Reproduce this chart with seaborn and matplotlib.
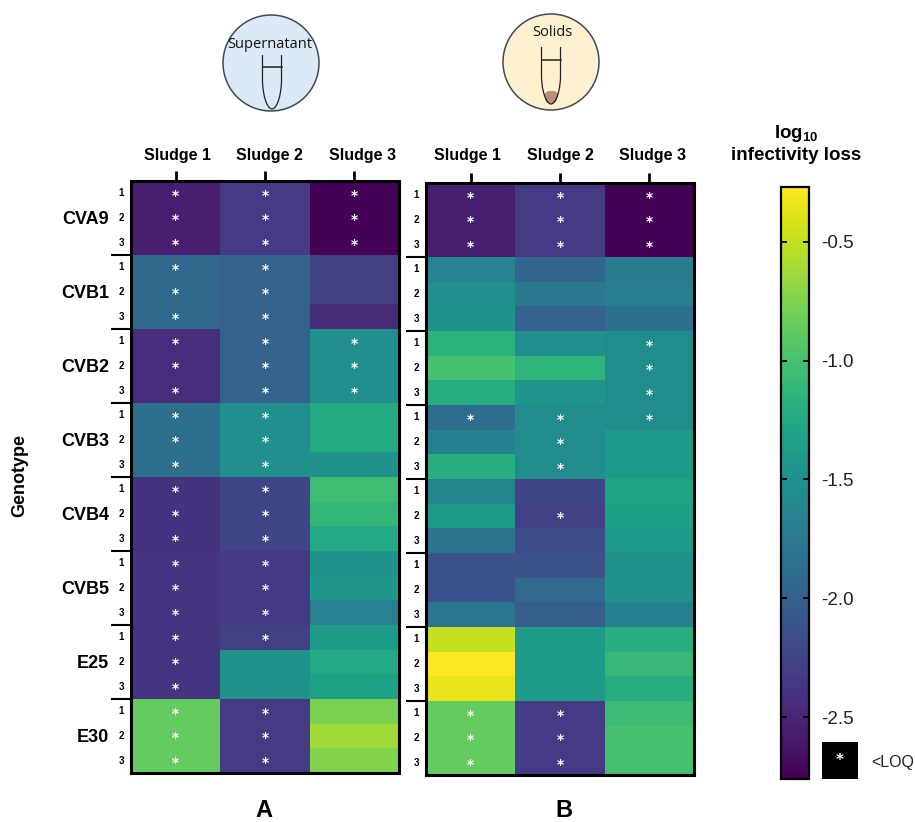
import numpy as np
import pandas as pd
import matplotlib
matplotlib.use("Agg")
import matplotlib.pyplot as plt
import seaborn as sns
from matplotlib.patches import Circle, PathPatch, Rectangle
from matplotlib.path import Path
from matplotlib.transforms import ScaledTranslation

# log10 infectivity loss, rows are genotype x replicate
genotypes = ["CVA9", "CVB1", "CVB2", "CVB3", "CVB4", "CVB5", "E25", "E30"]
replicates = ["1", "2", "3"]
sludges = ["Sludge 1", "Sludge 2", "Sludge 3"]

sup_sludge1 = [-2.55, -2.55, -2.55, -1.93, -1.93, -1.93, -2.43, -2.43, -2.43, -1.86, -1.86, -1.86,
               -2.40, -2.40, -2.40, -2.38, -2.38, -2.38, -2.38, -2.38, -2.38, -0.87, -0.87, -0.87]
sup_sludge2 = [-2.33, -2.33, -2.33, -1.98, -1.98, -1.98, -1.98, -1.98, -1.98, -1.53, -1.53, -1.53,
               -2.25, -2.25, -2.25, -2.35, -2.35, -2.35, -2.30, -1.49, -1.49, -2.33, -2.33, -2.33]
sup_sludge3 = [-2.75, -2.75, -2.75, -2.28, -2.28, -2.45, -1.53, -1.53, -1.53, -1.24, -1.24, -1.51,
               -1.04, -1.11, -1.26, -1.51, -1.44, -1.66, -1.39, -1.26, -1.34, -0.77, -0.62, -0.74]

sol_sludge1 = [-2.55, -2.55, -2.55, -1.66, -1.53, -1.51, -1.16, -0.99, -1.21, -1.88, -1.68, -1.19,
               -1.63, -1.39, -1.81, -2.13, -2.15, -1.78, -0.49, -0.27, -0.35, -0.87, -0.87, -0.87]
sol_sludge2 = [-2.33, -2.33, -2.33, -1.96, -1.76, -2.00, -1.53, -1.14, -1.46, -1.56, -1.56, -1.56,
               -2.25, -2.30, -2.18, -2.13, -1.91, -2.03, -1.39, -1.39, -1.39, -2.33, -2.33, -2.33]
sol_sludge3 = [-2.75, -2.75, -2.75, -1.72, -1.71, -1.86, -1.56, -1.56, -1.56, -1.56, -1.41, -1.41,
               -1.31, -1.36, -1.41, -1.51, -1.51, -1.68, -1.19, -1.09, -1.21, -1.06, -0.99, -0.99]

# 1 = below limit of quantification (asterisk)
sup_loq1 = [1, 1, 1, 1, 1, 1, 1, 1, 1, 1, 1, 1, 1, 1, 1, 1, 1, 1, 1, 1, 1, 1, 1, 1]
sup_loq2 = [1, 1, 1, 1, 1, 1, 1, 1, 1, 1, 1, 1, 1, 1, 1, 1, 1, 1, 1, 0, 0, 1, 1, 1]
sup_loq3 = [1, 1, 1, 0, 0, 0, 1, 1, 1, 0, 0, 0, 0, 0, 0, 0, 0, 0, 0, 0, 0, 0, 0, 0]
sol_loq1 = [1, 1, 1, 0, 0, 0, 0, 0, 0, 1, 0, 0, 0, 0, 0, 0, 0, 0, 0, 0, 0, 1, 1, 1]
sol_loq2 = [1, 1, 1, 0, 0, 0, 0, 0, 0, 1, 1, 1, 0, 1, 0, 0, 0, 0, 0, 0, 0, 1, 1, 1]
sol_loq3 = [1, 1, 1, 0, 0, 0, 1, 1, 1, 1, 0, 0, 0, 0, 0, 0, 0, 0, 0, 0, 0, 0, 0, 0]

VMIN, VMAX = -2.76, -0.27
W, H = 915, 822

plt.rcParams["font.family"] = ["Liberation Sans", "DejaVu Sans"]
plt.rcParams["axes.unicode_minus"] = False
plt.rcParams["mathtext.fontset"] = "custom"
plt.rcParams["mathtext.bf"] = "Liberation Sans:bold"
plt.rcParams["mathtext.rm"] = "Liberation Sans:bold"

fig = plt.figure(figsize=(W / 100, H / 100), dpi=100)


def px_axes(left, top, right, bottom):
    return fig.add_axes([left / W, 1 - bottom / H, (right - left) / W, (bottom - top) / H])


row_index = [f"{g}-{r}" for g in genotypes for r in replicates]


def draw_panel(ax, cols, loqs, label_shift, label_pad, cbar_ax=None, group_labels=True):
    df = pd.DataFrame(dict(zip(sludges, cols)), index=row_index)
    stars = np.array([["*" if v else "" for v in col] for col in loqs]).T
    sns.heatmap(df, ax=ax, cmap="viridis", vmin=VMIN, vmax=VMAX, annot=stars, fmt="",
                annot_kws={"color": "white", "fontsize": 10, "fontweight": "bold",
                           "family": "DejaVu Sans"},
                cbar=cbar_ax is not None, cbar_ax=cbar_ax, linewidths=0)
    # asterisk glyph sits high in its box, nudge it down a little
    for t in ax.texts:
        x, y = t.get_position()
        t.set_position((x, y + 0.09))
    ax.xaxis.tick_top()
    ax.set_xticks(np.arange(3) + 0.5, sludges, fontsize=11.5, fontweight="bold", rotation=0)
    ax.tick_params(axis="x", length=7, width=2, pad=label_pad, color="black")
    # column headers don't sit exactly over their ticks in the original
    for lab, dx in zip(ax.get_xticklabels(), label_shift):
        lab.set_transform(lab.get_transform() + ScaledTranslation(dx / 100, 0, fig.dpi_scale_trans))
    ax.set_yticks(np.arange(24) + 0.5, replicates * 8, fontsize=7, fontweight="bold", rotation=0)
    ax.tick_params(axis="y", which="major", length=0, pad=5)
    ax.set_yticks(np.arange(3, 24, 3), minor=True)
    ax.tick_params(axis="y", which="minor", length=14.5, width=1.5, color="black")
    ax.set_xlabel("")
    ax.set_ylabel("")
    for s in ax.spines.values():
        s.set_visible(True)
        s.set_linewidth(2.2)
        s.set_color("black")
    if group_labels:
        for i, g in enumerate(genotypes):
            ax.annotate(g, xy=(0, 3 * i + 1.5), xycoords=ax.get_yaxis_transform(),
                        xytext=(-16, -1.4), textcoords="offset points", ha="right", va="center",
                        fontsize=13, fontweight="bold")


ax_a = px_axes(131, 181, 399, 773)
ax_b = px_axes(426, 183, 694, 775)
cax = px_axes(781, 187, 809, 779)

draw_panel(ax_a, [sup_sludge1, sup_sludge2, sup_sludge3], [sup_loq1, sup_loq2, sup_loq3],
           [2, 4, 8], 6, cbar_ax=cax)
draw_panel(ax_b, [sol_sludge1, sol_sludge2, sol_sludge3], [sol_loq1, sol_loq2, sol_loq3],
           [-3, 0, 3], 7.5, group_labels=False)

# colour bar
cb = ax_a.collections[0].colorbar
cb.set_ticks([-0.5, -1.0, -1.5, -2.0, -2.5], labels=["-0.5", "-1.0", "-1.5", "-2.0", "-2.5"])
cb.outline.set_visible(True)
cb.outline.set_linewidth(1.6)
cb.outline.set_edgecolor("black")
cax.tick_params(axis="y", direction="in", left=True, right=True, length=4, width=1.3,
                labelsize=13.5, labelcolor="#222222", pad=9, color="black")

# overlay in pixel coordinates for annotations and the two tube icons
ov = fig.add_axes([0, 0, 1, 1], zorder=5)
ov.set_xlim(0, W)
ov.set_ylim(H, 0)
ov.axis("off")

ov.text(20, 475, "Genotype", rotation=90, ha="center", va="center", fontsize=13, fontweight="bold")
ov.text(264, 821.5, "A", ha="center", va="bottom", fontsize=17, fontweight="bold")
ov.text(564, 821.5, "B", ha="center", va="bottom", fontsize=17, fontweight="bold")
ov.text(796, 134, r"$\mathbf{log_{10}}$", ha="center", va="center", fontsize=13.5, fontweight="bold")
ov.text(796, 155, "infectivity loss", ha="center", va="center", fontsize=13.5, fontweight="bold")

ov.add_patch(Rectangle((822, 742), 36, 37, facecolor="black", edgecolor="none"))
ov.text(840, 760, "*", color="white", ha="center", va="center", fontsize=11, fontweight="bold",
        family="DejaVu Sans")
ov.text(871, 762, "<LOQ", ha="left", va="center", fontsize=11.5, color="#222222")


def tube(cx, top, shoulder, bottom, level, halfw=9.5):
    verts = [(cx - halfw, top), (cx - halfw, shoulder),
             (cx - halfw + 1, bottom - 8), (cx - 3.5, bottom), (cx, bottom),
             (cx + 3.5, bottom), (cx + halfw - 1, bottom - 8), (cx + halfw, shoulder),
             (cx + halfw, top)]
    codes = [Path.MOVETO, Path.LINETO, Path.CURVE4, Path.CURVE4, Path.CURVE4,
             Path.CURVE4, Path.CURVE4, Path.CURVE4, Path.LINETO]
    ov.add_patch(PathPatch(Path(verts, codes), facecolor="none", edgecolor="#222222", lw=0.9))
    ov.plot([cx - halfw, cx + halfw], [level, level], color="#222222", lw=1.1)


ov.add_patch(Circle((271, 63), 48, facecolor="#dce9f6", edgecolor="#404a55", lw=1.1))
ov.add_patch(Circle((551, 62), 48, facecolor="#fdf1cf", edgecolor="#404a55", lw=1.1))
ov.add_patch(PathPatch(Path([(544, 94), (548, 91), (555, 91), (558.5, 94), (556, 102), (551, 104), (546, 102), (544, 94)],
                            [Path.MOVETO, Path.LINETO, Path.LINETO, Path.LINETO, Path.LINETO, Path.LINETO, Path.LINETO, Path.CLOSEPOLY]),
                       facecolor="#b8917a", edgecolor="none"))
tube(272, 55, 82, 109, 67)
tube(551, 47, 78, 104, 60)
ov.text(270, 44, "Supernatant", ha="center", va="center", fontsize=10.5, family="Open Sans", color="#111111")
ov.text(552, 32, "Solids", ha="center", va="center", fontsize=10.5, family="Open Sans", color="#111111")

fig.savefig("out.png", dpi=100)
